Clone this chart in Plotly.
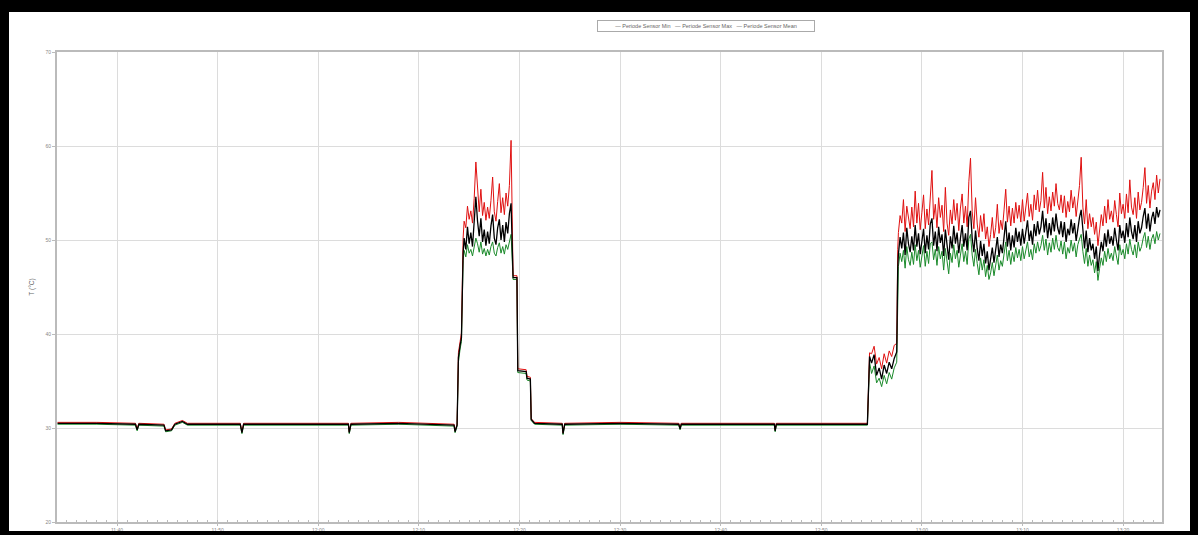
import plotly.graph_objects as go
import pandas as pd

DAY = "2024-01-01 "

# ---- baseline + events (time, mean, max, min) ----
t_base1 = ["11:34:05", "11:38:00", "11:41:50", "11:42:00", "11:42:10", "11:44:40", "11:44:50", "11:45:25",
           "11:45:45", "11:46:30", "11:47:00", "11:52:15", "11:52:25", "11:52:35", "12:03:00", "12:03:05",
           "12:03:15", "12:08:00", "12:13:30", "12:13:36", "12:13:48", "12:13:56", "12:14:06", "12:14:14", "12:14:24"]
mean_base1 = [30.5, 30.5, 30.4, 29.8, 30.4, 30.3, 29.7, 29.8,
              30.4, 30.7, 30.4, 30.4, 29.5, 30.4, 30.4, 29.5,
              30.4, 30.5, 30.3, 29.6, 30.3, 37.5, 38.8, 39.6, 48.6]
max_base1 = [30.6, 30.6, 30.5, 29.9, 30.5, 30.4, 29.8, 29.9,
             30.5, 30.8, 30.5, 30.5, 29.6, 30.5, 30.5, 29.6,
             30.5, 30.6, 30.4, 29.7, 30.4, 38.0, 39.2, 40.1, 50.2]
min_base1 = [30.4, 30.4, 30.3, 29.7, 30.3, 30.2, 29.6, 29.7,
             30.3, 30.6, 30.3, 30.3, 29.4, 30.3, 30.3, 29.4,
             30.3, 30.4, 30.2, 29.5, 30.2, 37.0, 38.4, 39.2, 47.8]

# ---- first warm phase (every 10 s from 12:14:30) ----
mean_a = [50.2, 49.0, 51.4, 49.6, 50.8, 49.3, 51.6, 54.6, 52.0, 50.4, 52.3, 49.8, 51.1, 49.4, 50.9,
          49.6, 51.5, 52.7, 50.2, 49.5, 51.3, 52.2, 50.0, 51.6, 49.8, 51.9, 50.7, 52.8, 53.9]
max_a = [52.0, 51.3, 53.6, 52.2, 53.1, 51.8, 54.4, 58.3, 55.1, 53.0, 55.4, 52.6, 54.0, 52.1, 53.5,
         52.3, 54.2, 56.7, 53.0, 52.0, 54.1, 56.0, 52.9, 54.5, 52.7, 55.0, 53.6, 55.8, 60.6]
min_a = [48.9, 48.2, 49.5, 48.6, 49.0, 48.3, 49.4, 50.2, 49.6, 48.7, 49.8, 48.5, 49.1, 48.3, 49.0,
         48.4, 49.3, 49.8, 48.6, 48.3, 49.2, 49.7, 48.6, 49.3, 48.5, 49.5, 49.0, 49.9, 50.6]
t_a_start = "12:14:30"

# ---- cool down + baseline ----
t_base2 = ["12:19:22", "12:19:45", "12:19:50", "12:20:40", "12:20:45", "12:21:05", "12:21:10", "12:21:30",
           "12:24:15", "12:24:20", "12:24:30", "12:30:00", "12:35:50", "12:35:58", "12:36:05", "12:45:20",
           "12:45:25", "12:45:32", "12:54:35"]
mean_base2 = [46.0, 46.0, 36.1, 36.0, 35.3, 35.2, 30.9, 30.5,
              30.4, 29.4, 30.4, 30.5, 30.4, 29.9, 30.4, 30.4,
              29.7, 30.4, 30.4]
max_base2 = [46.2, 46.2, 36.3, 36.2, 35.5, 35.4, 31.0, 30.6,
             30.5, 29.5, 30.5, 30.6, 30.5, 30.0, 30.5, 30.5,
             29.8, 30.5, 30.5]
min_base2 = [45.8, 45.8, 35.9, 35.8, 35.1, 35.0, 30.8, 30.4,
             30.3, 29.3, 30.3, 30.4, 30.3, 29.8, 30.3, 30.3,
             29.6, 30.3, 30.3]

# ---- intermediate step ----
t_b = ["12:54:48", "12:55:00", "12:55:15", "12:55:30", "12:55:45", "12:56:00", "12:56:15", "12:56:30",
       "12:56:45", "12:57:00", "12:57:15", "12:57:30", "12:57:36"]
mean_b = [37.6, 36.9, 37.8, 35.6, 36.4, 35.2, 36.7, 35.8, 37.0, 36.3, 37.4, 38.1, 47.0]
max_b = [38.0, 37.9, 38.7, 36.8, 37.5, 36.3, 37.9, 36.9, 38.2, 37.6, 38.8, 39.0, 49.0]
min_b = [37.0, 35.8, 36.6, 34.8, 35.3, 34.4, 35.6, 34.7, 35.9, 35.2, 36.4, 37.0, 45.8]

# ---- second warm phase (every 10 s from 12:57:40) ----
mean_c = [48.5, 50.3,
          49.1, 50.8, 48.4, 51.3, 49.6, 48.7,  50.4, 48.9, 51.6, 49.3, 50.7, 48.5,
          49.8, 51.2, 48.6, 50.5, 49.0, 51.7,  52.3, 49.4, 50.9, 48.8, 51.4, 49.7,
          50.6, 48.3, 51.1, 49.2, 47.9, 50.4,  49.1, 51.5, 49.6, 50.8, 48.6, 50.2,
          51.6, 49.3, 50.7, 48.9, 52.4, 53.1,  50.2, 48.7, 51.0, 49.1, 47.8, 49.9,
          48.3, 49.6, 47.5, 48.8, 46.8, 48.0,  49.2, 47.6, 48.9, 50.3, 48.2, 49.5,
          48.6, 50.4, 52.0, 49.3, 50.8, 48.9,  50.5, 49.2, 51.3, 49.8, 50.9, 49.4,
          51.2, 49.6, 50.8, 52.1, 49.9, 51.0,  49.5, 51.7, 50.4, 52.0, 50.6, 51.4,
          53.1, 50.8, 52.3, 50.2, 51.8, 50.5,  52.4, 50.9, 52.8, 51.3, 50.6, 52.0,
          50.3, 51.9, 49.8, 51.2, 50.5, 52.2,  50.7, 51.8, 49.9, 51.5, 52.4, 53.2,
          50.6, 49.1, 51.0, 48.7, 50.2, 48.9,  49.6, 48.0, 49.3, 46.7, 48.5, 49.8,
          48.8, 50.7, 49.3, 51.1, 49.6, 50.4,  49.4, 51.3, 50.0, 48.9, 51.6, 50.2,
          51.0, 49.7, 51.8, 50.3, 52.4, 50.9,  50.1, 51.6, 49.8, 52.0, 50.7, 51.3,
          52.5, 53.4, 51.2, 52.8, 50.9, 52.3,
          53.0, 51.7, 53.5, 52.4, 53.2]
max_c = [50.8, 52.6,
         51.8, 54.3, 50.9, 53.6, 52.4, 51.2,  53.5, 51.4, 55.2, 51.8, 53.9, 51.1,
         52.9, 54.8, 51.2, 53.3, 51.6, 54.6,  57.4, 52.2, 53.8, 51.3, 54.5, 52.4,
         53.7, 50.9, 55.6, 51.8, 50.5, 53.2,  51.7, 54.3, 52.1, 53.9, 51.0, 53.4,
         54.9, 51.8, 53.6, 51.4, 56.2, 58.7,  53.0, 51.2, 54.5, 51.7, 50.3, 52.6,
         50.9, 52.8, 50.1, 51.4, 49.3, 50.6,  52.4, 50.2, 51.3, 53.8, 50.7, 52.1,
         51.1, 53.2, 55.4, 51.9, 53.6, 51.5,  53.4, 51.8, 54.0, 52.3, 53.7, 51.9,
         54.3, 52.0, 53.5, 55.0, 52.5, 53.8,  52.1, 54.8, 53.2, 55.3, 53.0, 54.2,
         57.2, 53.4, 55.6, 52.8, 54.6, 53.1,  55.1, 53.6, 56.0, 53.9, 53.2, 54.8,
         52.9, 54.7, 52.4, 54.1, 53.0, 55.3,  53.4, 54.6, 52.5, 54.2, 55.8, 58.8,
         53.5, 51.7, 54.3, 51.2, 52.8, 51.4,  52.4, 50.6, 51.9, 49.4, 51.2, 52.7,
         51.5, 53.6, 51.8, 54.3, 52.2, 53.1,  51.9, 54.2, 52.7, 51.4, 55.0, 52.8,
         53.8, 52.3, 54.9, 52.9, 56.4, 53.5,  52.7, 54.5, 52.3, 55.1, 53.2, 54.0,
         55.6, 57.7, 53.9, 55.8, 53.4, 55.2,
         56.1, 54.3, 56.9, 55.0, 56.5]
min_c = [47.2, 48.6,
         47.7, 48.9, 47.0, 49.3, 47.9, 47.3,  48.7, 47.4, 49.5, 47.8, 48.9, 47.1,
         48.1, 49.4, 47.2, 48.8, 47.5, 49.6,  49.8, 47.9, 49.0, 47.3, 49.3, 48.0,
         48.8, 46.8, 49.1, 47.6, 46.4, 48.6,  47.6, 49.5, 48.0, 48.9, 47.1, 48.4,
         49.6, 47.7, 48.8, 47.4, 50.1, 50.6,  48.4, 47.2, 49.0, 47.5, 46.3, 48.1,
         46.8, 47.9, 46.1, 47.3, 45.8, 46.5,  47.6, 46.2, 47.3, 48.4, 46.8, 47.8,
         47.2, 48.6, 49.8, 47.8, 48.9, 47.4,  48.7, 47.7, 49.2, 48.1, 49.0, 47.8,
         49.3, 48.0, 48.9, 49.8, 48.2, 49.0,  47.9, 49.6, 48.6, 49.8, 48.8, 49.4,
         50.5, 48.9, 50.1, 48.4, 49.7, 48.7,  50.2, 49.0, 50.5, 49.2, 48.8, 49.9,
         48.5, 49.8, 48.0, 49.2, 48.6, 50.0,  48.8, 49.7, 48.2, 49.5, 50.1, 50.6,
         48.8, 47.5, 49.1, 47.2, 48.4, 47.3,  47.9, 46.5, 47.7, 45.7, 47.0, 48.1,
         47.3, 48.8, 47.7, 49.1, 48.0, 48.6,  47.8, 49.3, 48.3, 47.4, 49.5, 48.4,
         49.0, 48.0, 49.6, 48.5, 50.1, 49.0,  48.4, 49.5, 48.1, 49.8, 48.8, 49.3,
         50.2, 50.8, 49.2, 50.4, 49.0, 50.1,
         50.6, 49.6, 50.9, 50.0, 50.7]
t_c_start = "12:57:40"
step_seconds = 10

series_names = ["Periode Sensor Min", "Periode Sensor Max", "Periode Sensor Mean"]
series_colors = ["#1a8a2a", "#e01010", "#000000"]
y_ticks = [20, 30, 40, 50, 60, 70]
x_ticks = ["11:40", "11:50", "12:00", "12:10", "12:20", "12:30", "12:40", "12:50", "13:00", "13:10", "13:20"]

# ---- assemble ----
t_a = list(pd.date_range(DAY + t_a_start, periods=len(mean_a), freq=f"{step_seconds}s"))
t_c = list(pd.date_range(DAY + t_c_start, periods=len(mean_c), freq=f"{step_seconds}s"))
times = ([pd.Timestamp(DAY + s) for s in t_base1] + t_a +
         [pd.Timestamp(DAY + s) for s in t_base2 + t_b] + t_c)
mean_all = mean_base1 + mean_a + mean_base2 + mean_b + mean_c
max_all = max_base1 + max_a + max_base2 + max_b + max_c
min_all = min_base1 + min_a + min_base2 + min_b + min_c

fig = go.Figure()
for name, vals, col, w in zip(series_names, [min_all, max_all, mean_all], series_colors, [1, 1, 1.3]):
    fig.add_trace(go.Scatter(x=times, y=vals, mode="lines", name=name,
                             line=dict(color=col, width=w), showlegend=False))

W, H = 1198, 535
L, R, T, B = 57, 36, 52, 13
pw, ph = W - L - R, H - T - B


def px(x):
    return (x - L) / pw


def py(y):
    return (H - B - y) / ph


shapes = []
for x0, y0, x1, y1 in [(0, 0, 9, 535), (0, 0, 1198, 12), (1190, 0, 1198, 535), (0, 531, 1198, 535)]:
    shapes.append(dict(type="rect", xref="paper", yref="paper", x0=px(x0), x1=px(x1), y0=py(y1), y1=py(y0),
                       fillcolor="black", line=dict(width=0), layer="above"))

legend_text = "   ".join("— " + n for n in series_names)

fig.update_layout(
    width=W, height=H,
    margin=dict(l=L, r=R, t=T, b=B, autoexpand=False),
    paper_bgcolor="white", plot_bgcolor="white",
    font=dict(family="Liberation Sans, Arial, sans-serif", size=5, color="#888888"),
    showlegend=False,
    shapes=shapes,
    annotations=[dict(text=legend_text, xref="paper", yref="paper", x=px(705.5), y=py(25.5),
                      xanchor="center", yanchor="middle", showarrow=False,
                      font=dict(size=5.5, color="#666666"), bordercolor="#aaaaaa", borderwidth=1,
                      borderpad=2, bgcolor="white", width=212)],
)
fig.update_xaxes(
    range=[DAY + "11:34:02", DAY + "13:23:52"],
    tickvals=[DAY + s for s in x_ticks], ticktext=x_ticks,
    showgrid=True, gridcolor="#dcdcdc", gridwidth=1,
    showline=True, linecolor="#bbbbbb", linewidth=2, mirror=True,
    ticks="outside", ticklen=2, tickcolor="#bbbbbb",
    minor=dict(dtick=60000, ticks="inside", ticklen=2, tickcolor="#bbbbbb", showgrid=False),
    tickfont=dict(size=5, color="#888888"), zeroline=False, automargin=False,
)
fig.update_yaxes(
    range=[20, 70], tickvals=y_ticks,
    showgrid=True, gridcolor="#dcdcdc", gridwidth=1,
    showline=True, linecolor="#bbbbbb", linewidth=2, mirror=True,
    ticks="outside", ticklen=3, tickcolor="#bbbbbb",
    tickfont=dict(size=5, color="#888888"), zeroline=False, automargin=False,
    title=dict(text="T (°C)", font=dict(size=6.5, color="#666666"), standoff=10),
)

fig.write_html("out.html", config={"displayModeBar": False},
               post_script="document.body.style.margin='0';document.body.style.overflow='hidden';")
